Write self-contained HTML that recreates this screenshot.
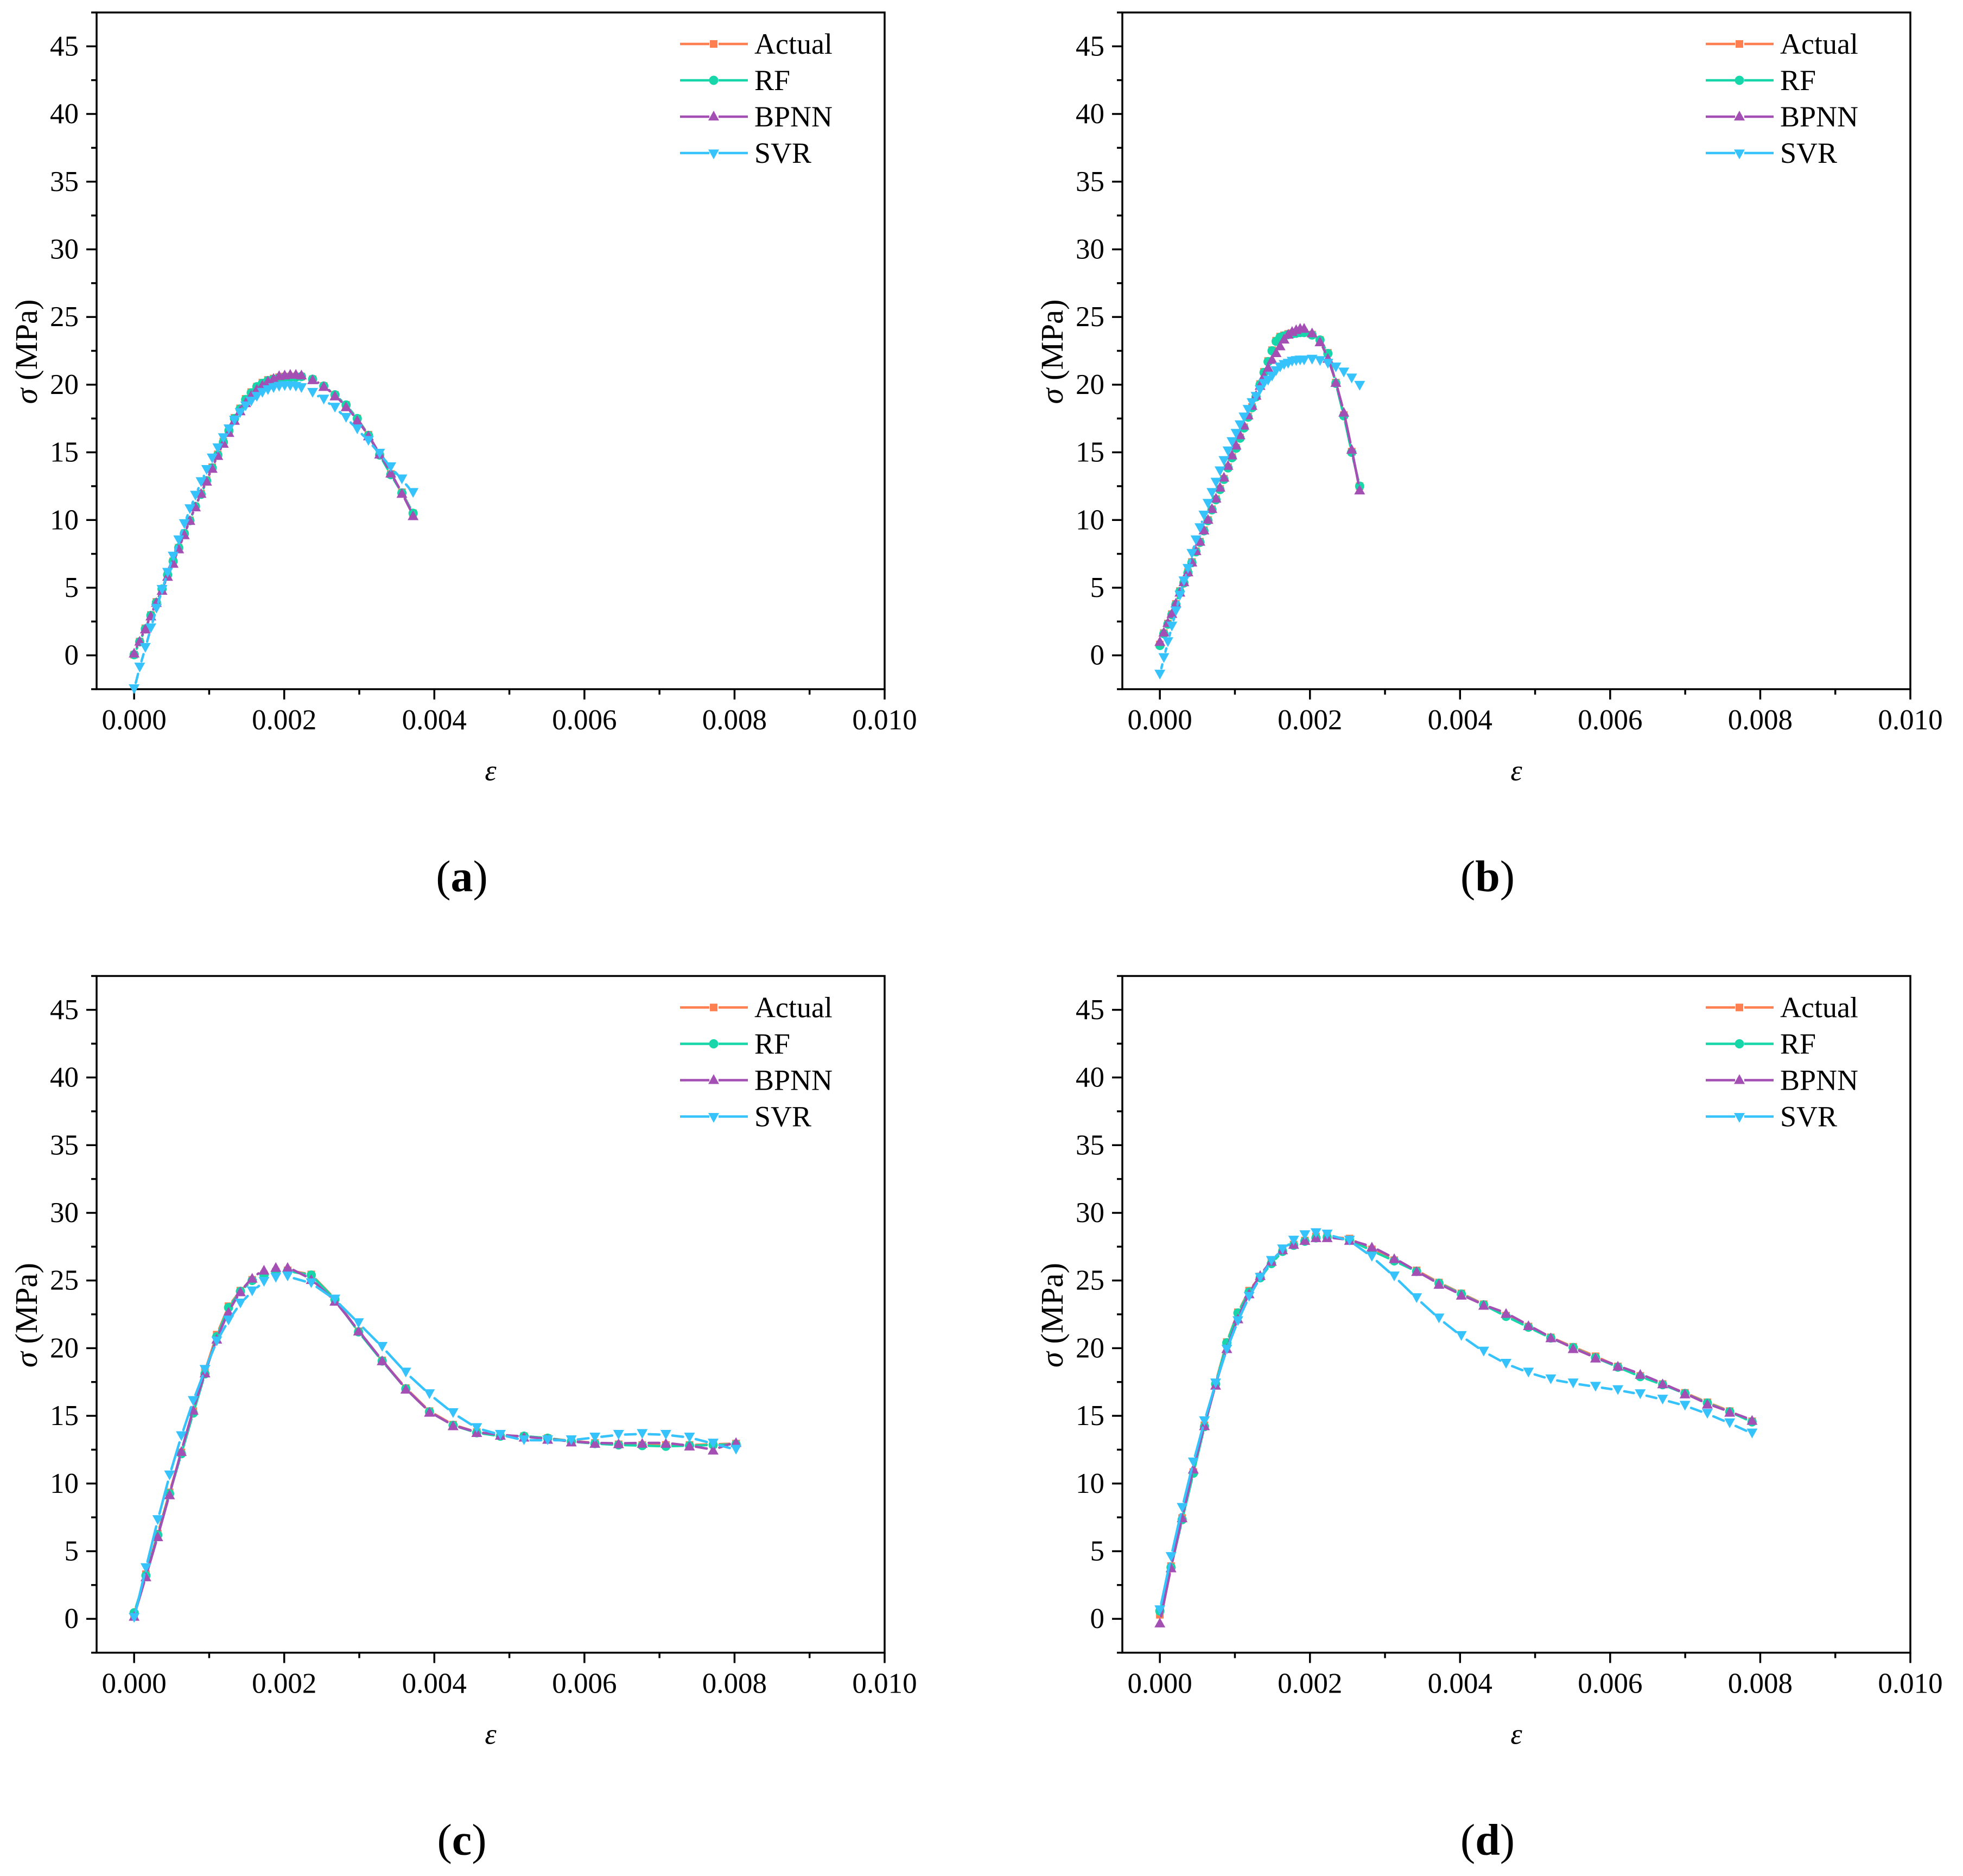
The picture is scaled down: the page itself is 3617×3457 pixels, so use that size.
<!DOCTYPE html>
<html lang="en">
<head>
<meta charset="utf-8">
<title>Stress-strain curves: Actual, RF, BPNN, SVR</title>
<style>
html,body{margin:0;padding:0;background:#fff;width:3617px;height:3457px;overflow:hidden}
svg{display:block;font-family:"Liberation Serif",serif}
</style>
</head>
<body>
<svg id="figure" xmlns="http://www.w3.org/2000/svg" width="3617" height="3457" viewBox="0 0 3617 3457"></svg>
<script>
/* ---------- shared axis data ---------- */
const xTickValues = [0, 0.002, 0.004, 0.006, 0.008, 0.01];
const xTickLabels = ["0.000", "0.002", "0.004", "0.006", "0.008", "0.010"];
const xMinorValues = [0.001, 0.003, 0.005, 0.007, 0.009];
const yTickValues = [0, 5, 10, 15, 20, 25, 30, 35, 40, 45];
const yTickLabels = ["0", "5", "10", "15", "20", "25", "30", "35", "40", "45"];
const yMinorValues = [-2.5, 2.5, 7.5, 12.5, 17.5, 22.5, 27.5, 32.5, 37.5, 42.5, 47.5];
const seriesNames = ["Actual", "RF", "BPNN", "SVR"];

/* ---------- panel (a) ---------- */
const strainA = [0,.000074,.000149,.000223,.000297,.000372,.000446,.00052,.000594,.000669,.000743,.000817,.000892,.000966,.00104,.001115,.001189,.001263,.001337,.001412,.001486,.00156,.001635,.001709,.001783,.001858,.001932,.002006,.00208,.002155,.002229,.002378,.002527,.002676,.002824,.002973,.003122,.003271,.00342,.003568,.003717];
const actualA = [.05,1.02,2,2.98,3.95,4.92,5.95,6.95,7.95,8.98,9.98,11,11.95,12.95,13.9,14.85,15.8,16.65,17.55,18.25,18.95,19.45,19.85,20.15,20.35,20.45,20.55,20.6,20.6,20.6,20.6,20.4,19.9,19.25,18.5,17.5,16.3,14.85,13.4,12.05,10.5];
const rfA = [.05,1,1.95,2.95,3.9,4.9,5.95,6.95,7.95,9,9.95,11,11.9,12.9,13.85,14.8,15.75,16.6,17.5,18.2,18.9,19.4,19.85,20.1,20.3,20.4,20.5,20.55,20.55,20.55,20.6,20.4,19.9,19.25,18.5,17.5,16.25,14.8,13.35,12,10.5];
const bpnnA = [.2,1.08,1.98,2.94,3.94,4.84,5.87,6.83,7.9,8.94,10,11,12,12.9,13.85,14.8,15.7,16.5,17.4,18.1,18.7,19.25,19.7,20,20.3,20.5,20.7,20.75,20.8,20.8,20.75,20.4,19.9,19.2,18.4,17.4,16.25,14.9,13.5,12,10.35];
const svrA = [-2.5,-.9,.55,2,3.45,4.84,6.1,7.3,8.5,9.7,10.8,11.8,12.8,13.7,14.55,15.3,16.05,16.7,17.35,17.9,18.4,18.75,19.1,19.4,19.6,19.75,19.85,19.9,19.9,19.85,19.75,19.4,18.9,18.3,17.55,16.7,15.85,14.9,13.9,13,12];

/* ---------- panel (b) ---------- */
const strainB = [0,.000053,.000107,.00016,.000214,.000267,.00032,.000374,.000427,.000481,.000534,.000587,.000641,.000694,.000748,.000801,.000854,.000908,.000961,.001015,.001068,.001121,.001175,.001228,.001282,.001335,.001388,.001442,.001495,.001549,.001602,.001655,.001709,.001762,.001816,.001869,.001922,.002028,.002134,.002239,.002345,.002451,.002556,.002662];
const actualB = [.8,1.65,2.35,3.05,3.8,4.75,5.4,6.15,6.9,7.7,8.4,9.25,10,10.8,11.55,12.3,13.05,13.9,14.65,15.35,16.1,16.85,17.65,18.35,19.15,20.05,20.95,21.75,22.55,23.25,23.55,23.65,23.75,23.8,23.85,23.85,23.85,23.7,23.3,22.35,20.15,17.75,15.05,12.5];
const rfB = [.73,1.6,2.3,3,3.75,4.7,5.35,6.1,6.85,7.65,8.35,9.2,9.95,10.75,11.5,12.25,13,13.85,14.6,15.3,16.05,16.8,17.6,18.3,19.1,20,20.9,21.7,22.5,23.2,23.5,23.6,23.7,23.75,23.8,23.85,23.85,23.67,23.3,22.3,20.1,17.7,15,12.5];
const bpnnB = [1.06,1.75,2.46,3.13,3.9,4.7,5.47,6.2,6.93,7.77,8.46,9.3,10.08,10.88,11.65,12.46,13.2,14.07,14.84,15.57,16.33,17.04,17.8,18.5,19.25,19.98,20.7,21.3,21.9,22.4,22.9,23.4,23.76,23.97,24.1,24.2,24.2,23.86,23.2,21.98,20.2,18,15.26,12.25];
const svrB = [-1.42,-.2,.98,2.13,3.26,4.41,5.47,6.39,7.5,8.5,9.4,10.33,11.2,12,12.76,13.6,14.36,15.07,15.76,16.37,17,17.58,18.14,18.64,19.1,19.6,20.06,20.3,20.6,21,21.27,21.46,21.55,21.7,21.75,21.79,21.79,21.85,21.75,21.55,21.27,20.9,20.46,19.92];

/* ---------- panel (c) ---------- */
const strainC = [0,.000157,.000315,.000472,.000629,.000787,.000944,.001101,.001258,.001416,.001573,.00173,.001888,.002045,.00236,.002675,.00299,.003305,.00362,.003935,.00425,.004565,.00488,.005195,.00551,.005825,.00614,.006455,.00677,.007085,.0074,.007715,.00802];
const actualC = [.35,3.3,6.3,9.35,12.3,15.35,18.3,21,23.1,24.25,25.05,25.45,25.65,25.75,25.45,23.65,21.25,19.1,17.05,15.35,14.35,13.8,13.55,13.5,13.35,13.15,13,12.9,12.85,12.85,12.85,12.9,12.95];
const rfC = [.45,3.2,6.2,9.25,12.2,15.2,18.1,20.85,23,24.2,25,25.4,25.6,25.7,25.4,23.6,21.2,19.05,17,15.3,14.3,13.75,13.5,13.5,13.35,13.1,12.95,12.85,12.8,12.75,12.8,12.85,12.9];
const bpnnC = [.22,3.14,6.1,9.2,12.4,15.45,18.2,20.7,22.7,24.2,25.2,25.8,26,26,25.1,23.5,21.3,19.1,17,15.3,14.3,13.8,13.6,13.46,13.3,13.1,13,12.97,13,13,12.8,12.5,13.06];
const svrC = [.07,3.75,7.3,10.6,13.5,16.1,18.4,20.5,22.05,23.3,24.2,24.9,25.2,25.3,24.8,23.6,21.85,20.1,18.2,16.6,15.2,14.1,13.6,13.2,13.2,13.2,13.4,13.6,13.66,13.6,13.4,12.95,12.5];

/* ---------- panel (d) ---------- */
const strainD = [0,.000149,.000297,.000446,.000594,.000743,.000892,.00104,.001189,.001337,.001486,.001635,.001783,.001932,.00208,.002229,.002527,.002825,.003123,.003421,.003719,.004017,.004315,.004613,.004911,.005209,.005507,.005805,.006103,.006401,.006699,.006997,.007295,.007593,.007891];
const actualD = [.3,3.9,7.45,10.85,14.3,17.45,20.45,22.65,24.25,25.3,26.3,27.2,27.65,27.95,28.25,28.25,28.1,27.3,26.5,25.75,24.85,24.05,23.25,22.4,21.6,20.8,20.1,19.4,18.65,17.95,17.35,16.7,16,15.35,14.6];
const rfD = [.58,3.8,7.33,10.76,14.2,17.35,20.4,22.6,24.15,25.2,26.25,27.15,27.6,27.9,28.15,28.2,28,27.2,26.45,25.67,24.8,24,23.2,22.35,21.55,20.75,20.05,19.3,18.6,17.9,17.3,16.65,15.95,15.3,14.55];
const bpnnD = [-.27,3.8,7.5,11.1,14.3,17.3,20,22.2,24.05,25.4,26.45,27.3,27.7,28,28.2,28.2,28,27.5,26.65,25.7,24.75,23.95,23.2,22.6,21.7,20.8,20,19.3,18.7,18.1,17.4,16.65,15.9,15.3,14.7];
const svrD = [.64,4.57,8.2,11.56,14.6,17.4,19.9,22,23.8,25.2,26.45,27.3,27.95,28.35,28.5,28.4,27.95,26.75,25.3,23.7,22.2,20.9,19.75,18.85,18.2,17.7,17.4,17.15,16.9,16.6,16.2,15.75,15.15,14.45,13.7];

/* ---------- drawing ---------- */
const SVGNS = "http://www.w3.org/2000/svg";
const COLORS = {Actual: "#FF7F50", RF: "#17D6A9", BPNN: "#A44FB4", SVR: "#36C3FC"};
const X_MIN = -0.0005, X_MAX = 0.01, Y_MIN = -2.5, Y_MAX = 47.5;
const PLOT_W = 1452, PLOT_H = 1247, GAP = 12;
const root = document.getElementById("figure");

function make(tag, attrs, parent, text) {
  const e = document.createElementNS(SVGNS, tag);
  for (const k in attrs) e.setAttribute(k, attrs[k]);
  if (text !== undefined) e.textContent = text;
  parent.appendChild(e);
  return e;
}

function drawMarker(name, cx, cy, parent) {
  const fill = COLORS[name];
  let m;
  if (name === "Actual") {
    m = make("rect", {x: cx - 7, y: cy - 7, width: 14, height: 14, fill: fill}, parent);
  } else if (name === "RF") {
    m = make("circle", {cx: cx, cy: cy, r: 8.5, fill: fill}, parent);
  } else if (name === "BPNN") {
    m = make("polygon", {points: (cx) + "," + (cy - 11) + " " + (cx + 10) + "," + (cy + 7) + " " + (cx - 10) + "," + (cy + 7), fill: fill}, parent);
  } else {
    m = make("polygon", {points: (cx - 10) + "," + (cy - 6.5) + " " + (cx + 10) + "," + (cy - 6.5) + " " + (cx) + "," + (cy + 11.5), fill: fill}, parent);
  }
  return m;
}

function drawPanel(letter, originX, originY, strain, seriesValues) {
  const g = make("g", {}, root);
  
  

  const xScale = v => originX + (v - X_MIN) / (X_MAX - X_MIN) * PLOT_W;
  const yScale = v => originY + PLOT_H - (v - Y_MIN) / (Y_MAX - Y_MIN) * PLOT_H;
  const bottom = originY + PLOT_H, left = originX;

  const frame = make("rect", {x: left, y: originY, width: PLOT_W, height: PLOT_H, fill: "none", stroke: "#000", "stroke-width": 3.5}, g);
  
  

  xTickValues.forEach((v, i) => {
    const t = make("line", {x1: xScale(v), x2: xScale(v), y1: bottom, y2: bottom + 19, stroke: "#000", "stroke-width": 3.5}, g);
    
    
    const l = make("text", {x: xScale(v), y: bottom + 74, "text-anchor": "middle", "font-size": 53, fill: "#000"}, g, xTickLabels[i]);
    
    
  });
  xMinorValues.forEach(v => {
    const t = make("line", {x1: xScale(v), x2: xScale(v), y1: bottom, y2: bottom + 10, stroke: "#000", "stroke-width": 3.5}, g);
    
    
  });
  yTickValues.forEach((v, i) => {
    const t = make("line", {x1: left - 19, x2: left, y1: yScale(v), y2: yScale(v), stroke: "#000", "stroke-width": 3.5}, g);
    
    
    const l = make("text", {x: left - 33, y: yScale(v) + 17, "text-anchor": "end", "font-size": 53, fill: "#000"}, g, yTickLabels[i]);
    
    
  });
  yMinorValues.forEach(v => {
    const t = make("line", {x1: left - 10, x2: left, y1: yScale(v), y2: yScale(v), stroke: "#000", "stroke-width": 3.5}, g);
    
    
  });

  /* axis titles */
  const yTitleX = left - 110, yTitleY = originY + 625;
  const yTitle = make("text", {x: yTitleX, y: yTitleY, transform: "rotate(-90 " + yTitleX + " " + yTitleY + ")", "text-anchor": "middle", "font-size": 58.5, fill: "#000"}, g);
  
  
  make("tspan", {"font-style": "italic"}, yTitle, "σ");
  make("tspan", {}, yTitle, " (MPa)");
  const xTitle = make("text", {x: left + 726, y: bottom + 168, "text-anchor": "middle", "font-size": 54, "font-style": "italic", fill: "#000"}, g, "ε");
  
  

  /* series */
  seriesNames.forEach((name, si) => {
    const values = seriesValues[si];
    const markerShift = name === "BPNN" ? 2 : (name === "SVR" ? -2.5 : 0);
    const sg = make("g", {}, g);
    
    
    for (let i = 0; i < values.length - 1; i++) {
      const x1 = xScale(strain[i]), y1 = yScale(values[i]);
      const x2 = xScale(strain[i + 1]), y2 = yScale(values[i + 1]);
      const d = Math.hypot(x2 - x1, y2 - y1);
      if (d <= GAP * 2) continue;
      const ux = (x2 - x1) / d, uy = (y2 - y1) / d;
      const seg = make("line", {x1: x1 + ux * GAP, y1: y1 + uy * GAP, x2: x2 - ux * GAP, y2: y2 - uy * GAP, stroke: COLORS[name], "stroke-width": 4.5, "stroke-linecap": "round"}, sg);
      
      
    }
    values.forEach((v, i) => {
      const m = drawMarker(name, xScale(strain[i]), yScale(v) + markerShift, sg);
      
      
    });
  });

  /* legend */
  const legend = make("g", {}, g);
  
  
  seriesNames.forEach((name, i) => {
    const ly = originY + 58 + i * 67;
    const lx = originX + 1075;
    const entry = make("g", {}, legend);
    
    
    const a = make("line", {x1: lx, x2: lx + 54, y1: ly, y2: ly, stroke: COLORS[name], "stroke-width": 4.5}, entry);
    
    
    const b = make("line", {x1: lx + 71, x2: lx + 125, y1: ly, y2: ly, stroke: COLORS[name], "stroke-width": 4.5}, entry);
    
    
    const m = drawMarker(name, lx + 62, ly, entry);
    
    
    const t = make("text", {x: lx + 137, y: ly + 18, "font-size": 54, fill: "#000"}, entry, name);
    
    
  });

  /* sub-figure label */
  const cap = make("text", {x: left + 673, y: bottom + 372, "text-anchor": "middle", "font-size": 82, fill: "#000"}, g);
  
  
  make("tspan", {}, cap, "(");
  make("tspan", {"font-weight": "bold"}, cap, letter);
  make("tspan", {}, cap, ")");
}

drawPanel("a", 178, 23, strainA, [actualA, rfA, bpnnA, svrA]);
drawPanel("b", 2068, 23, strainB, [actualB, rfB, bpnnB, svrB]);
drawPanel("c", 178, 1798.5, strainC, [actualC, rfC, bpnnC, svrC]);
drawPanel("d", 2068, 1798.5, strainD, [actualD, rfD, bpnnD, svrD]);
</script>
</body>
</html>
